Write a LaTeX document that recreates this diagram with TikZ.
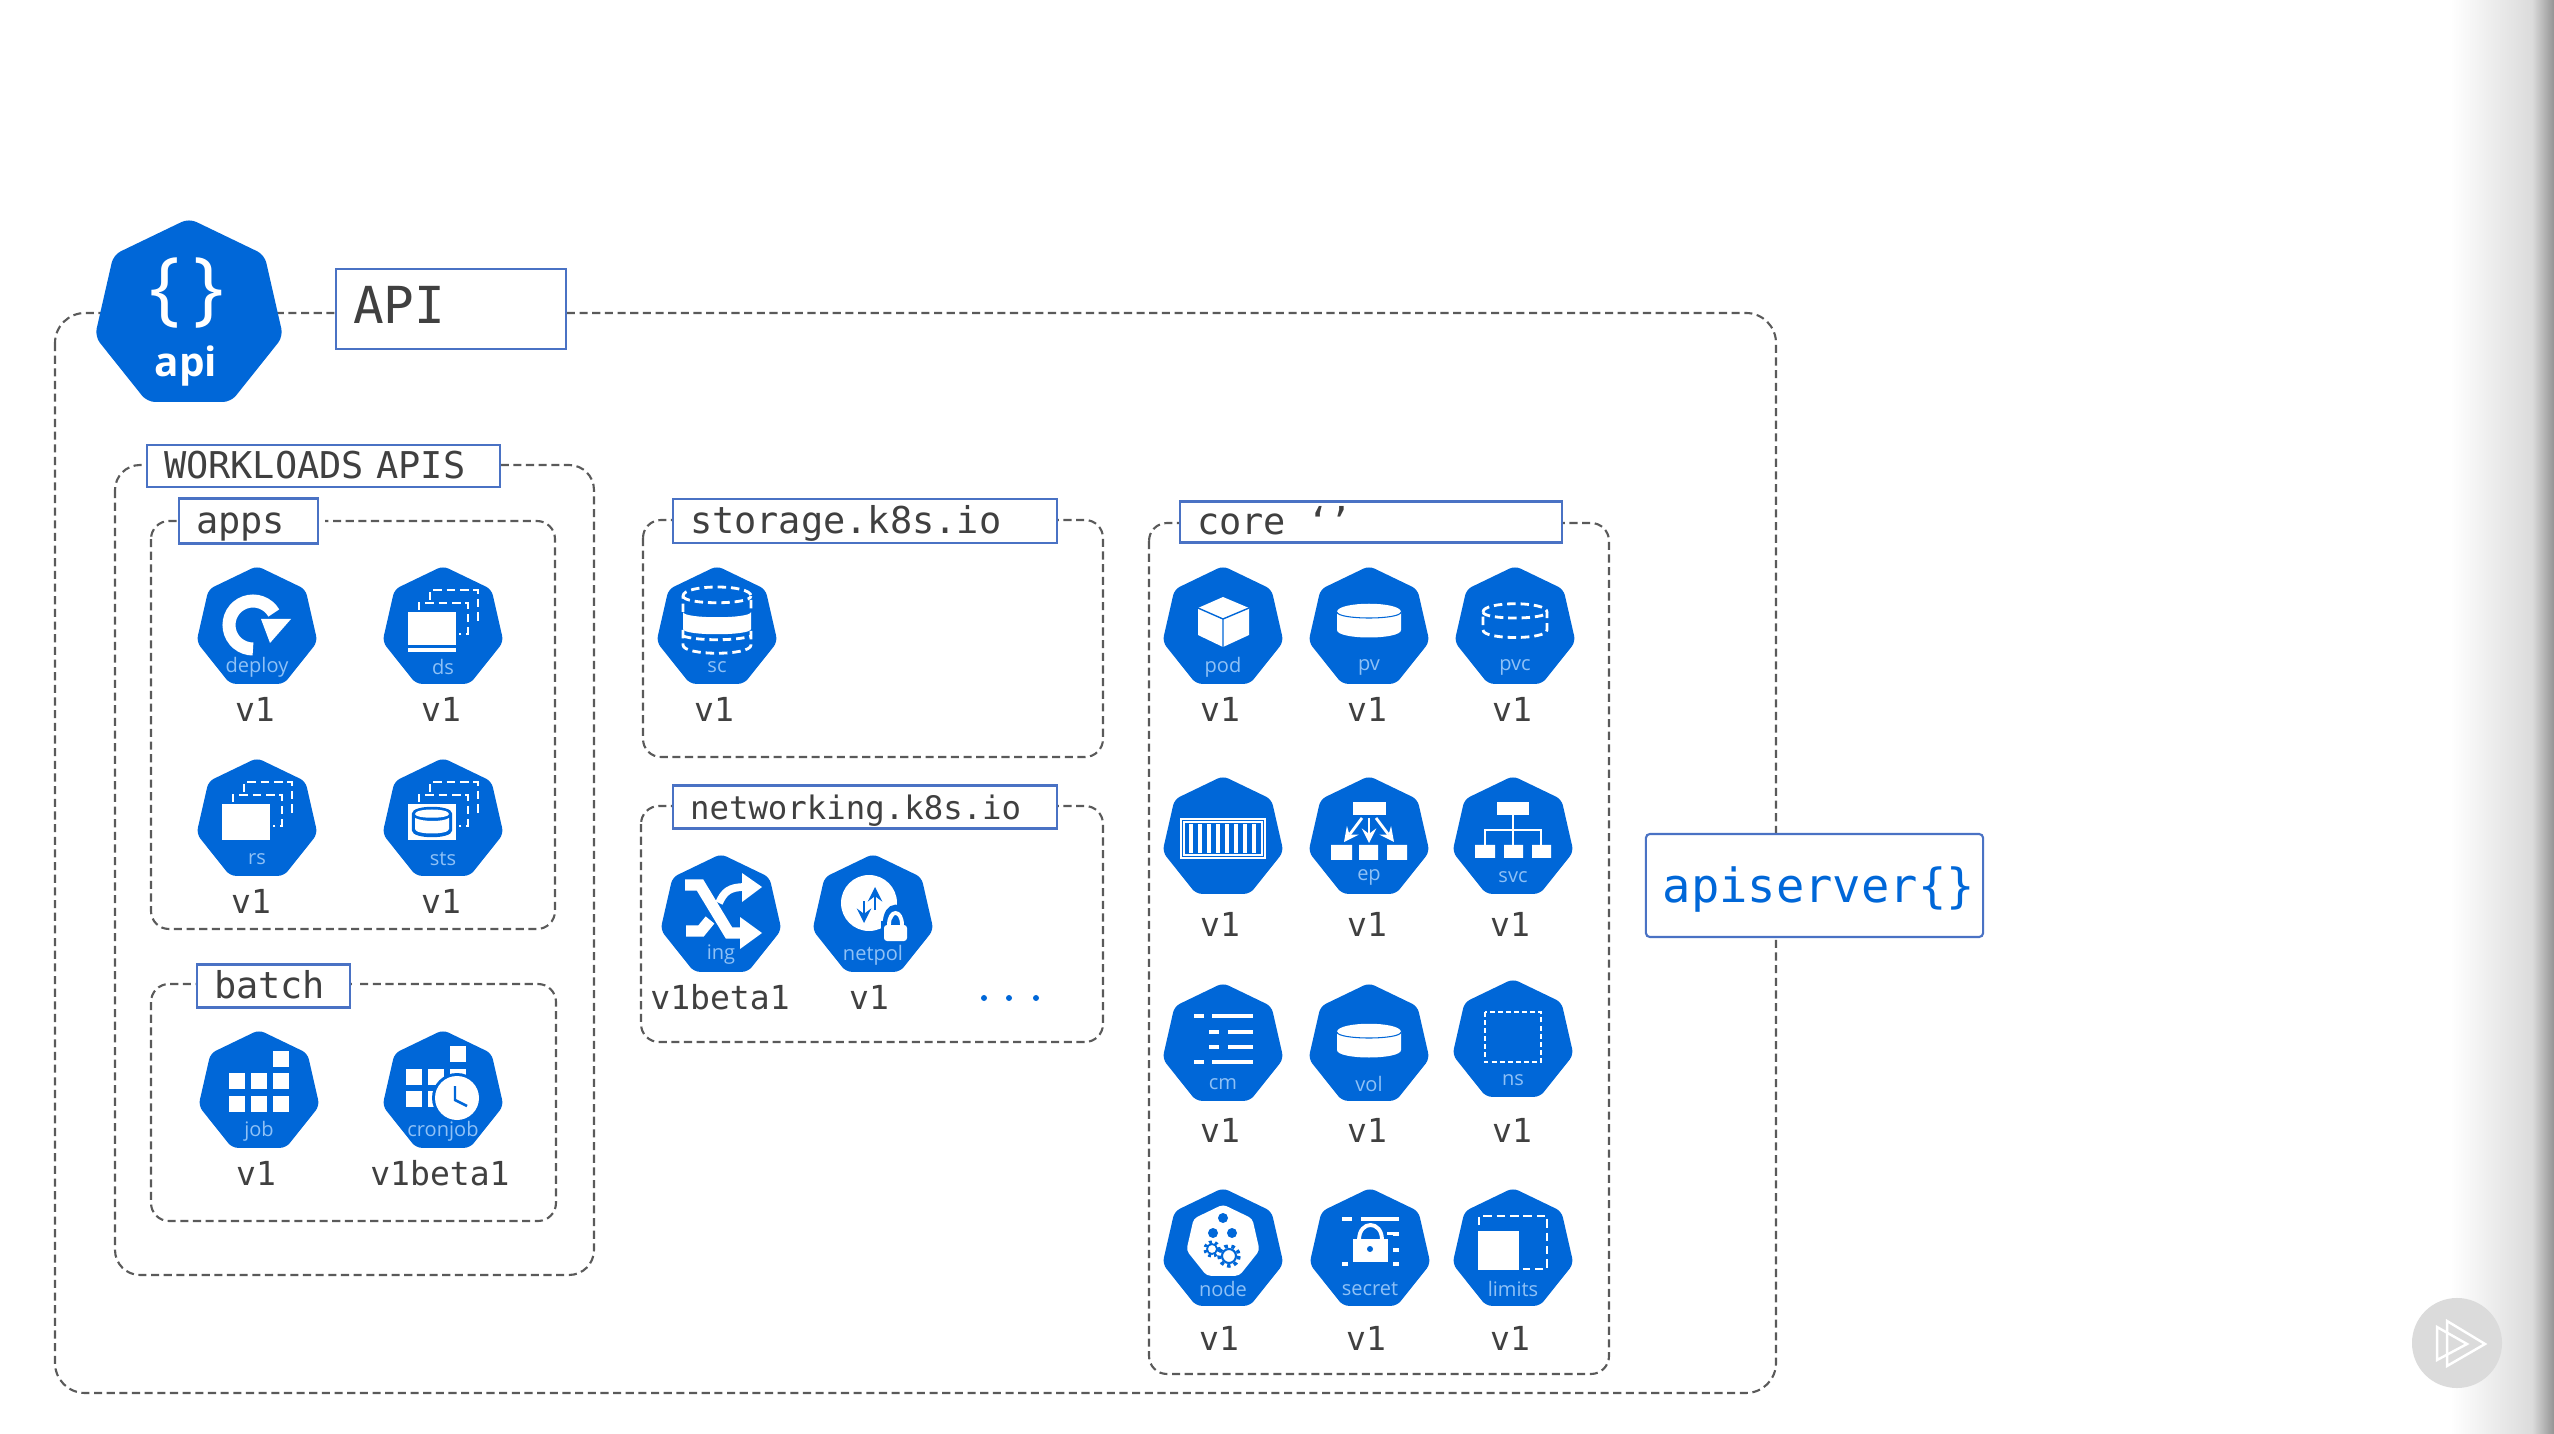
\documentclass[tikz,border=0pt]{standalone}
\usepackage{fontspec}
\setmainfont{Open Sans}
\setmonofont{DejaVu Sans Mono}
\usetikzlibrary{shapes.geometric}
\definecolor{kubeblue}{HTML}{0067D8}
\definecolor{kubepale}{HTML}{8FC1F6}
\definecolor{boxblue}{HTML}{4A72C4}
\definecolor{inkgrey}{HTML}{404040}
\definecolor{dashgrey}{HTML}{5A5A5A}
\tikzset{
  hept/.style={regular polygon, regular polygon sides=7, fill=kubeblue, minimum size=1.24cm, inner sep=0pt, rounded corners=0.6mm},
  heptname/.style={text=kubepale, font=\fontsize{5.7}{7}\selectfont, inner sep=0pt},
  vername/.style={text=inkgrey, font=\ttfamily\fontsize{9.4}{11}\selectfont, inner sep=0pt},
  grpdash/.style={draw=dashgrey, line width=0.6pt, dash pattern=on 2.3pt off 1.3pt},
  lblbox/.style={draw=boxblue, fill=white, line width=0.6pt, anchor=west, align=left, text=inkgrey, inner xsep=0.17cm, inner ysep=0pt, text height=0.85em, text depth=0.12em},
  icondash/.style={draw=white, line width=0.8pt, dash pattern=on 2.4pt off 1.4pt},
  iconline/.style={draw=white, line width=1.4pt},
}
\newcommand{\kubeicon}[8]{
  \node[hept] (#1) at (#2,#3) {};
  \begin{scope}[shift={(#1)}]#8\end{scope}
  \node[heptname] (#1name) at (#2,#3+39) {#4};
  \node[vername] (#1ver) at (#5,#6) {#7};
}
\newcommand{\glyphcyl}{
  \fill[white] (-32,-16) .. controls (-32,-27) and (32,-27) .. (32,-16) -- (32,2) .. controls (32,12) and (-32,12) .. (-32,2) -- cycle;
  \draw[kubeblue, line width=0.3pt] (-32,-16) .. controls (-32,-8) and (32,-8) .. (32,-16);
}
\newcommand{\glyphback}{
  \draw[icondash] (-13,-28) -- (-13,-38) -- (35,-38) -- (35,-4);
  \draw[icondash] (-24,-18) -- (-24,-25) -- (25,-25) -- (25,6) -- (16,6);
}
\newcommand{\glyphpod}{
  \fill[white] (0,-31) -- (26,-20) -- (26,7) -- (0,19) -- (-25,7) -- (-25,-20) -- cycle;
  \draw[kubeblue, line width=0.4pt] (-25,-20) -- (0,-9) -- (26,-20) (0,-9) -- (0,19);
}
\newcommand{\glyphpvc}{
  \draw[icondash] (-32,-16) .. controls (-32,-27) and (32,-27) .. (32,-16) -- (32,2) .. controls (32,12) and (-32,12) .. (-32,2) -- cycle;
  \draw[icondash] (-32,-16) .. controls (-32,-8) and (32,-8) .. (32,-16);
}
\newcommand{\glyphsc}{
  \draw[icondash] (-34,-16) -- (-34,-32) .. controls (-34,-44) and (34,-44) .. (34,-32) -- (34,-16);
  \draw[icondash] (-34,-32) .. controls (-34,-23) and (34,-23) .. (34,-32);
  \fill[white] (-34,-16) .. controls (-34,-9) and (34,-9) .. (34,-16) -- (34,1) .. controls (34,8) and (-34,8) .. (-34,1) -- cycle;
  \draw[icondash] (-34,2) -- (-34,17) .. controls (-34,28) and (34,28) .. (34,17) -- (34,2);
  \draw[icondash] (-34,8) .. controls (-20,13) and (20,13) .. (34,8);
}
\newcommand{\glyphdeploy}{
  \draw[white, line width=3.7pt] plot[smooth, domain=90:330, samples=25] ({-4+24*cos(\x)},{-3+24*sin(\x)});
  \fill[white] (4,-9) -- (34,-9) -- (13,15) -- cycle;
}
\newcommand{\glyphds}{
  \glyphback
  \fill[white] (-35,-16) rectangle (13,17);
  \fill[white] (-35,20) rectangle (13,24);
}
\newcommand{\glyphrs}{
  \glyphback
  \fill[white] (-35,-16) rectangle (13,20);
}
\newcommand{\glyphsts}{
  \glyphback
  \fill[white] (-35,-16) rectangle (13,20);
  \draw[kubeblue, line width=0.7pt, fill=kubeblue] (-30,-6) .. controls (-30,-14) and (8,-14) .. (8,-6) -- (8,10) .. controls (8,18) and (-30,18) .. (-30,10) -- cycle;
  \fill[white] (-28,-6) .. controls (-28,-12) and (6,-12) .. (6,-6) .. controls (6,-1) and (-28,-1) .. (-28,-6) -- cycle;
  \fill[white] (-28,-2) .. controls (-20,2) and (0,2) .. (6,-2) -- (6,9) .. controls (6,15) and (-28,15) .. (-28,9) -- cycle;
}
\newcommand{\glyphcontainer}{
  \draw[white, line width=0.6pt] (-42,-19) rectangle (42,20);
  \draw[white, line width=0.5pt] (-39,-16) rectangle (39,17);
  \foreach \i in {-32,-23,...,32} \fill[white] (\i-2,-14) rectangle (\i+2,15);
}
\newcommand{\glyphep}{
  \fill[white] (-16,-36) rectangle (17,-23);
  \fill[white] (-38,7) rectangle (-17,22) (-10,7) rectangle (9,22) (18,7) rectangle (38,22);
  \draw[white, line width=0.8pt, -stealth] (-7,-20) -- (-25,4);
  \draw[white, line width=0.8pt, -stealth] (0,-20) -- (0,5);
  \draw[white, line width=0.8pt, -stealth] (7,-20) -- (25,4);
}
\newcommand{\glyphsvc}{
  \fill[white] (-16,-36) rectangle (16,-23);
  \fill[white] (-38,7) rectangle (-18,20) (-9,7) rectangle (10,20) (19,7) rectangle (38,20);
  \draw[white, line width=0.7pt] (0,-23) -- (0,7) (-28,7) -- (-28,-8) -- (28,-8) -- (28,7);
}
\newcommand{\glyphcm}{
  \draw[iconline] (-29,-29) -- (-19,-29) (-11,-29) -- (30,-29);
  \draw[iconline] (-14,-13) -- (-4,-13) (5,-13) -- (30,-13);
  \draw[iconline] (-14,2) -- (-4,2) (5,2) -- (30,2);
  \draw[iconline] (-29,17) -- (-19,17) (-11,17) -- (30,17);
}
\newcommand{\glyphns}{
  \draw[white, line width=0.8pt, dash pattern=on 1.4pt off 0.9pt] (-28,-29) rectangle (28,21);
}
\newcommand{\glyphnode}{
  \node[regular polygon, regular polygon sides=7, fill=white, minimum size=0.75cm, inner sep=0pt, rounded corners=0.4mm] (nodeinner) at (0,-8) {};
  \fill[kubeblue] (0,-32) circle[radius=5] (-10,-17) circle[radius=5] (9,-17) circle[radius=5];
  \draw[kubeblue, line width=0.5pt] (-11,-1) circle[radius=5];
  \draw[kubeblue, line width=0.9pt, dash pattern=on 0.8pt off 0.9pt] (-11,-1) circle[radius=7];
  \draw[kubeblue, line width=0.6pt] (6,6) circle[radius=7];
  \draw[kubeblue, line width=1pt, dash pattern=on 1pt off 1pt] (6,6) circle[radius=10];
}
\newcommand{\glyphsecret}{
  \draw[iconline] (-28,-31) -- (-18,-31) (-9,-31) -- (29,-31);
  \draw[iconline] (17,-16) -- (29,-16) (21,0) -- (29,0);
  \draw[iconline] (-28,14) -- (-18,14) (-9,14) -- (29,14);
  \draw[kubeblue, line width=1.2pt, fill=kubeblue] (-20,-13) rectangle (21,15);
  \draw[white, line width=1.1pt] (-11,-10) .. controls (-11,-30) and (12,-30) .. (12,-10);
  \fill[white] (-17,-11) rectangle (18,12);
  \fill[kubeblue] (0,-1) circle[radius=3];
}
\newcommand{\glyphlimits}{
  \draw[icondash] (-34,-25) -- (-34,-34) -- (34,-34) -- (34,19) -- (10,19);
  \fill[white] (-35,-19) rectangle (6,20);
}
\newcommand{\glyphjob}{
  \foreach \i/\j in {-22/-11,0/-11,22/-11,-22/12,0/12,22/12,22/-33}
    \fill[white] (\i-8,\j-8) rectangle (\i+8,\j+8);
}
\newcommand{\glyphcron}{
  \foreach \i/\j in {-29/-15,-7/-15,-29/7,-7/7,15/-38,15/-15}
    \fill[white] (\i-8,\j-8) rectangle (\i+8,\j+8);
  \fill[kubeblue] (14,6) circle[radius=25];
  \fill[white] (14,6) circle[radius=22];
  \draw[kubeblue, line width=0.7pt] (12,-6) -- (12,8) -- (24,14);
}
\newcommand{\glyphing}{
  \draw[white, line width=3.2pt] (-36,-31) -- (-21,-31) -- (8,17) -- (24,17);
  \fill[white] (19,1) -- (41,17) -- (19,33) -- cycle;
  \draw[white, line width=2.2pt] (-2,-13) .. controls (3,-24) and (8,-29) .. (24,-29);
  \fill[white] (21,-43) -- (41,-29) -- (21,-14) -- cycle;
  \draw[white, line width=3.2pt] (-35,15) -- (-20,15) -- (-11,4);
}
\newcommand{\glyphnetpol}{
  \fill[white] (-4,-13) circle[radius=28];
  \draw[kubeblue, line width=0.8pt, -stealth] (2,-6) -- (2,-29);
  \draw[kubeblue, line width=0.8pt, -stealth] (-9,-15) -- (-9,7);
  \fill[kubeblue] (8,5) rectangle (37,29);
  \draw[kubeblue, line width=2.4pt] (14,8) .. controls (14,-12) and (31,-12) .. (31,8);
  \draw[white, line width=1.1pt] (16,9) .. controls (16,-7) and (29,-7) .. (29,9);
  \fill[white, rounded corners=0.3mm] (11,9) rectangle (34,25);
}
\begin{document}
\begin{tikzpicture}[x=0.01cm, y=-0.01cm]
\useasboundingbox (0,0) rectangle (2554,1434);
\fill[white] (0,0) rectangle (2554,1434);
\shade[left color=white, right color=black!14] (2450,0) rectangle (2532,1434);
\shade[left color=black!14, right color=black!42] (2532,0) rectangle (2554,1434);
\node[circle, fill=black!14, minimum size=0.9cm, inner sep=0pt] (playbtn) at (2457,1343) {};
\draw[white, line width=0.7pt, line join=miter] ([shift={(-10,-22)}]playbtn.center) -- ([shift={(28,1)}]playbtn.center) -- ([shift={(-10,23)}]playbtn.center) -- cycle;
\draw[white, line width=0.7pt, line join=miter] ([shift={(-20,-16)}]playbtn.center) -- ([shift={(10,1)}]playbtn.center) -- ([shift={(-20,17)}]playbtn.center) -- cycle;

\draw[grpdash, rounded corners=0.3cm] (55,313) rectangle (1776,1393);
\node[hept, minimum size=1.93cm, rounded corners=0.8mm] (api) at (189,315) {};
\node[text=white, font=\fontsize{23}{26}\selectfont, inner sep=0pt] (apibraces) at (187,293) {\{\,\}};
\node[text=white, font=\bfseries\fontsize{11.5}{13}\selectfont, inner sep=0pt] (apiname) at (186,366) {api};
\node[lblbox, text width=1.96cm, minimum height=0.8cm, text height=0.97em, font=\ttfamily\fontsize{14.5}{17}\selectfont] (apilbl) at (335,309) {API};

\draw[grpdash, rounded corners=0.25cm] (115,465) rectangle (594,1275);
\node[lblbox, text width=3.19cm, minimum height=0.42cm, font=\ttfamily\fontsize{10.5}{12}\selectfont] (workloadslbl) at (146,466) {WORKLOADS APIS};

\draw[grpdash, rounded corners=0.18cm] (151,521) rectangle (555,929);
\node[lblbox, text width=1.05cm, minimum height=0.45cm, font=\ttfamily\fontsize{10.5}{12}\selectfont] (appslbl) at (178,521) {apps};
\fill[white] (appslbl.east) ++(0.5,-5) rectangle ++(5,10);
\kubeicon{deploy}{257}{628}{deploy}{255}{709}{v1}{\glyphdeploy}
\kubeicon{ds}{443}{628}{ds}{441}{709}{v1}{\glyphds}
\kubeicon{rs}{257}{820}{rs}{251}{901}{v1}{\glyphrs}
\kubeicon{sts}{443}{820}{sts}{441}{901}{v1}{\glyphsts}

\draw[grpdash, rounded corners=0.18cm] (151,984) rectangle (556,1221);
\node[lblbox, text width=1.19cm, minimum height=0.43cm, font=\ttfamily\fontsize{10.5}{12}\selectfont] (batchlbl) at (196,986) {batch};
\fill[white] (batchlbl.east) ++(0.5,-5) rectangle ++(5,10);
\kubeicon{job}{259}{1092}{job}{256}{1173}{v1}{\glyphjob}
\kubeicon{cron}{443}{1092}{cronjob}{440}{1173}{v1beta1}{\glyphcron}

\draw[grpdash, rounded corners=0.18cm] (643,520) rectangle (1103,757);
\node[lblbox, text width=3.5cm, minimum height=0.44cm, font=\ttfamily\fontsize{10.5}{12}\selectfont] (storagelbl) at (672,521) {storage.k8s.io};
\kubeicon{sc}{717}{628}{sc}{714}{709}{v1}{\glyphsc}

\draw[grpdash, rounded corners=0.18cm] (641,806) rectangle (1103,1042);
\node[lblbox, text width=3.5cm, minimum height=0.43cm, font=\ttfamily\fontsize{9.2}{11}\selectfont] (networkinglbl) at (672,807) {networking.k8s.io};
\kubeicon{ing}{721}{916}{ing}{720}{997}{v1beta1}{\glyphing}
\kubeicon{netpol}{873}{916}{netpol}{869}{997}{v1}{\glyphnetpol}
\node[circle, fill=kubeblue, minimum size=0.06cm, inner sep=0pt] (dota) at (984,998) {};
\node[circle, fill=kubeblue, minimum size=0.06cm, inner sep=0pt] (dotb) at (1009,998) {};
\node[circle, fill=kubeblue, minimum size=0.06cm, inner sep=0pt] (dotc) at (1036,998) {};

\draw[grpdash, rounded corners=0.18cm] (1149,523) rectangle (1609,1374);
\node[lblbox, text width=3.48cm, minimum height=0.41cm, font=\ttfamily\fontsize{10.5}{12}\selectfont] (corelbl) at (1179,522) {core\hspace{2.5pt} ‘’};
\kubeicon{pod}{1223}{628}{pod}{1220}{709}{v1}{\glyphpod}
\kubeicon{pv}{1369}{628}{pv}{1367}{709}{v1}{\glyphcyl}
\kubeicon{pvc}{1515}{628}{pvc}{1512}{709}{v1}{\glyphpvc}
\kubeicon{ctr}{1223}{838}{}{1220}{924}{v1}{\glyphcontainer}
\kubeicon{ep}{1369}{838}{ep}{1367}{924}{v1}{\glyphep}
\kubeicon{svc}{1513}{838}{svc}{1510}{924}{v1}{\glyphsvc}
\kubeicon{cm}{1223}{1045}{cm}{1220}{1130}{v1}{\glyphcm}
\kubeicon{vol}{1369}{1045}{vol}{1367}{1130}{v1}{\begin{scope}[yshift=-0.03cm]\glyphcyl\end{scope}}
\kubeicon{ns}{1513}{1041}{ns}{1512}{1130}{v1}{\glyphns}
\kubeicon{nd}{1223}{1250}{node}{1219}{1338}{v1}{\glyphnode}
\kubeicon{secret}{1370}{1250}{secret}{1366}{1338}{v1}{\glyphsecret}
\kubeicon{limits}{1513}{1250}{limits}{1510}{1338}{v1}{\glyphlimits}

\node[draw=boxblue, fill=white, line width=0.6pt, rounded corners=0.04cm, inner sep=0pt, minimum width=3.37cm, minimum height=1.03cm, text=kubeblue, text height=1.05em, text depth=0.11em, font=\ttfamily\fontsize{13.4}{16}\selectfont] (apiserver) at (1814.5,885.5) {\hspace{2.4pt}apiserver\{\}};
\end{tikzpicture}
\end{document}
